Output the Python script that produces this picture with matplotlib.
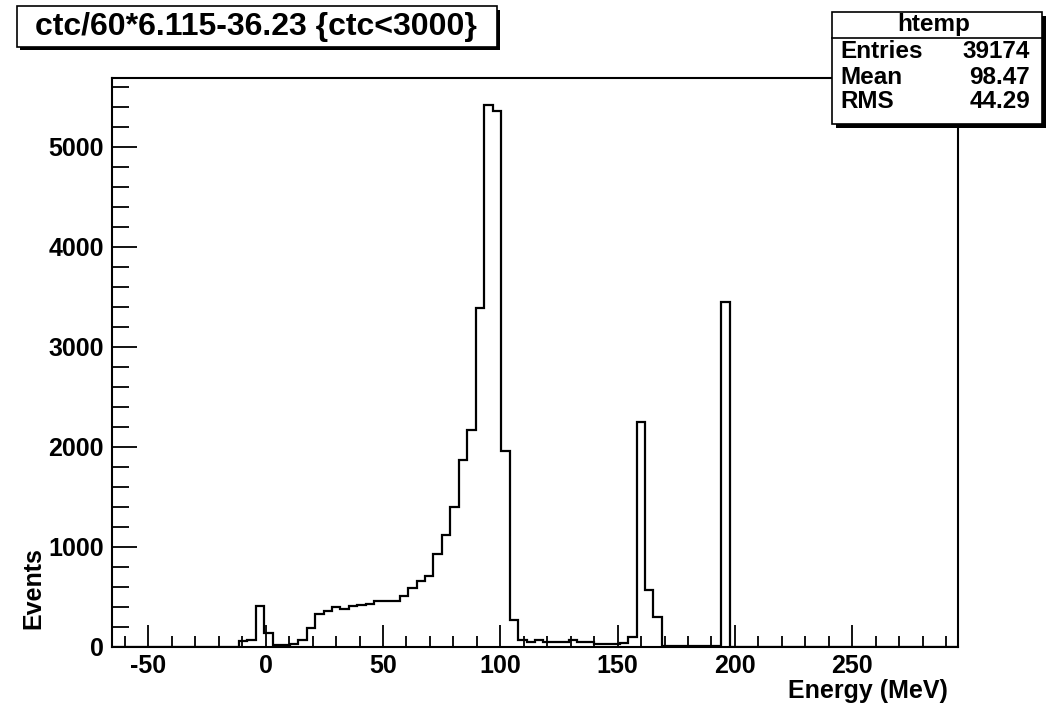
import matplotlib
matplotlib.use("Agg")
import matplotlib.pyplot as plt
import numpy as np
from matplotlib.patches import Rectangle
from matplotlib.ticker import MultipleLocator

plt.rcParams['font.family'] = ['Liberation Sans', 'DejaVu Sans']
plt.rcParams['font.weight'] = 'bold'
plt.rcParams['axes.unicode_minus'] = False

# htemp: 100 bins
x_min, x_max = -65.5, 295.1
n_bins = 100
counts = [0] * 15 + [
    55, 70, 410, 135, 15, 18, 30, 70, 185, 330,
    360, 395, 375, 410, 415, 430, 460, 460, 460, 510,
    590, 655, 710, 925, 1120, 1400, 1870, 2165, 3385, 5420,
    5360, 1955, 265, 70, 50, 70, 50, 50, 50, 70,
    45, 45, 30, 28, 28, 35, 100, 2245, 570, 300,
    8, 8, 8, 8, 8, 8, 8, 3450,
] + [0] * 27

title = "ctc/60*6.115-36.23 {ctc<3000}"
stat_labels = ["Entries", "Mean", "RMS"]
stat_values = ["39174", "98.47", "44.29"]

W, H = 1055, 715
fig = plt.figure(figsize=(W / 100, H / 100), dpi=100)


def fx(px):
    return px / W


def fy(py):
    return 1 - py / H


ax = fig.add_axes([fx(112), fy(647), fx(958) - fx(112), fy(78) - fy(647)])
edges = np.linspace(x_min, x_max, n_bins + 1)
ax.stairs(counts, edges, color='black', linewidth=1.6)
ax.set_xlim(x_min, x_max)
ax.set_ylim(0, 5687)

for s in ax.spines.values():
    s.set_linewidth(1.5)

ax.xaxis.set_major_locator(MultipleLocator(50))
ax.xaxis.set_minor_locator(MultipleLocator(10))
ax.yaxis.set_major_locator(MultipleLocator(1000))
ax.yaxis.set_minor_locator(MultipleLocator(200))
ax.tick_params(axis='x', which='major', direction='in', length=16, width=1.3,
               labelsize=18, pad=5)
ax.tick_params(axis='x', which='minor', direction='in', length=8, width=1.3)
ax.tick_params(axis='y', which='major', direction='in', length=18, width=1.3,
               labelsize=18, pad=6)
ax.tick_params(axis='y', which='minor', direction='in', length=12, width=1.3)
for lab in ax.get_xticklabels() + ax.get_yticklabels():
    lab.set_fontweight('bold')

fig.text(fx(948), fy(691), "Energy (MeV)", ha='right', va='center',
         fontsize=18, fontweight='bold')
fig.text(fx(33), fy(588), "Events", ha='center', va='center', rotation=90,
         fontsize=18, fontweight='bold')

# title box
fig.patches.append(Rectangle((fx(20), fy(50)), fx(500) - fx(20), fy(10) - fy(50),
                             transform=fig.transFigure, facecolor='black',
                             edgecolor='none', zorder=1))
fig.patches.append(Rectangle((fx(17), fy(47)), fx(497) - fx(17), fy(6) - fy(47),
                             transform=fig.transFigure, facecolor='white',
                             edgecolor='black', linewidth=1.2, zorder=2))
fig.text(fx(256), fy(27), title, ha='center', va='center', fontsize=23,
         fontweight='bold', zorder=3)

# stats box
fig.patches.append(Rectangle((fx(836), fy(128)), fx(1046) - fx(836), fy(16) - fy(128),
                             transform=fig.transFigure, facecolor='black',
                             edgecolor='none', zorder=4))
fig.patches.append(Rectangle((fx(832), fy(124)), fx(1042) - fx(832), fy(12) - fy(124),
                             transform=fig.transFigure, facecolor='white',
                             edgecolor='black', linewidth=1.2, zorder=5))
fig.lines.append(plt.Line2D([fx(832), fx(1042)], [fy(38), fy(38)],
                            transform=fig.transFigure, color='black',
                            linewidth=1.2, zorder=6))
fig.text(fx(934), fy(24), "htemp", ha='center', va='center', fontsize=17.5,
         fontweight='bold', zorder=7)
for i, (lab, val) in enumerate(zip(stat_labels, stat_values)):
    y = fy([51, 77, 102][i])
    fig.text(fx(840), y, lab, ha='left', va='center', fontsize=17.5,
             fontweight='bold', zorder=7)
    fig.text(fx(1030), y, val, ha='right', va='center', fontsize=17.5,
             fontweight='bold', zorder=7)

fig.savefig("out.png", dpi=100)
